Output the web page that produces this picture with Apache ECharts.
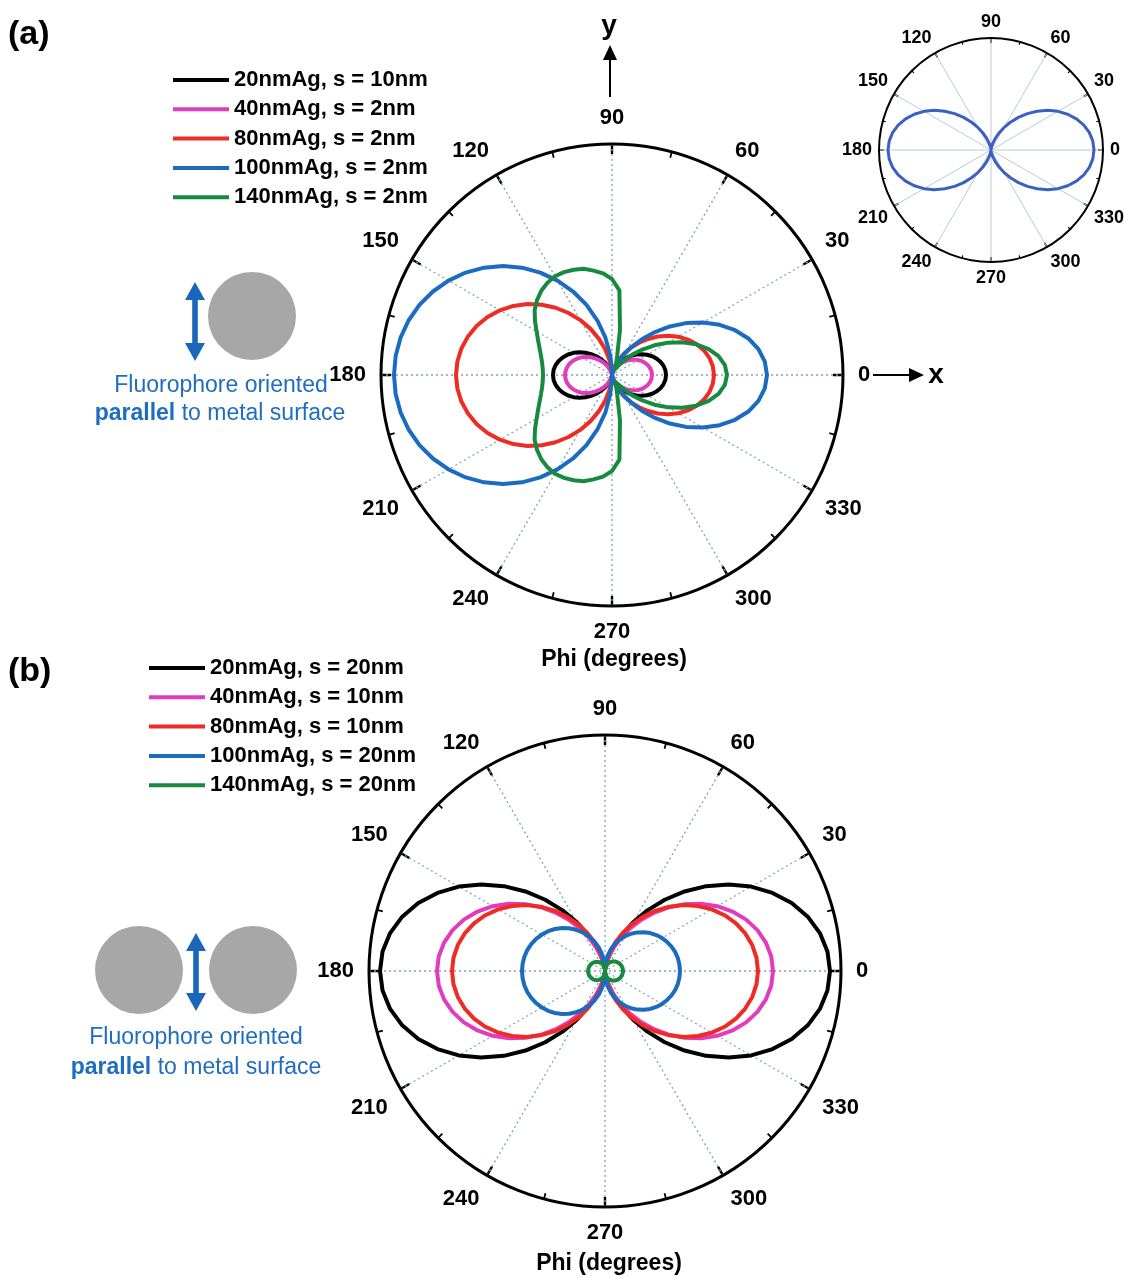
<!DOCTYPE html>
<html><head><meta charset="utf-8">
<script src="https://cdn.jsdelivr.net/npm/echarts@6/dist/echarts.min.js"></script>
<style>html,body{margin:0;padding:0;background:#fff}#c{width:1124px;height:1278px}</style>
</head><body><div id="c"></div>
<script>
// ---------- data ----------
const ANGLES = [0,5,10,15,20,25,30,35,40,45,50,55,60,65,70,75,80,85,90,95,100,105,110,115,120,125,130,135,140,145,150,155,160,165,170,175,180,
  185,190,195,200,205,210,215,220,225,230,235,240,245,250,255,260,265,270,275,280,285,290,295,300,305,310,315,320,325,330,335,340,345,350,355,360];

const NAMES_A = ['20nmAg, s = 10nm','40nmAg, s = 2nm','80nmAg, s = 2nm','100nmAg, s = 2nm','140nmAg, s = 2nm'];
const NAMES_B = ['20nmAg, s = 20nm','40nmAg, s = 10nm','80nmAg, s = 10nm','100nmAg, s = 20nm','140nmAg, s = 20nm'];
const COLORS = ['#000000','#e23cbd','#ee2b25','#1b6cc0','#178a3f'];

// panel (a) radial intensities (arbitrary units, outer circle = RMAX_A)
const RMAX_A = 231;
const BLACK_A = [54,53.6,52.4,50.4,47.7,44.4,40.5,36.2,31.7,27,22.3,17.8,13.5,9.6,6.3,3.6,1.6,0.4,0,
  0.4,1.8,4,6.9,10.5,14.8,19.4,24.4,29.5,34.6,39.6,44.3,48.5,52.1,55,57.2,58.6,59,
  58.6,57.2,55,52.1,48.5,44.3,39.6,34.6,29.5,24.4,19.4,14.8,10.5,6.9,4,1.8,0.4,0,
  0.4,1.6,3.6,6.3,9.6,13.5,17.8,22.3,27,31.7,36.2,40.5,44.4,47.7,50.4,52.4,53.6,54];
const MAGENTA_A = [40,39.7,38.8,37.3,35.3,32.9,30,26.8,23.5,20,16.5,13.2,10,7.1,4.7,2.7,1.2,0.3,0,
  0.4,1.4,3.1,5.5,8.4,11.8,15.5,19.4,23.5,27.6,31.5,35.3,38.6,41.5,43.9,45.6,46.6,47,
  46.6,45.6,43.9,41.5,38.6,35.3,31.5,27.6,23.5,19.4,15.5,11.8,8.4,5.5,3.1,1.4,0.4,0,
  0.3,1.2,2.7,4.7,7.1,10,13.2,16.5,20,23.5,26.8,30,32.9,35.3,37.3,38.8,39.7,40];
const RED_A = [102,101.2,98.9,95.2,90.1,83.8,76.5,68.4,59.9,51,42.1,33.6,25.5,18.2,11.9,6.8,3.1,0.8,0,
  6.5,16,26.9,38.7,50.9,63.4,75.7,87.8,99.4,110.3,120.4,129.4,137.3,143.9,149.1,152.9,155.2,156,
  155.2,152.9,149.1,143.9,137.3,129.4,120.4,110.3,99.4,87.8,75.7,63.4,50.9,38.7,26.9,16,6.5,0,
  0.8,3.1,6.8,11.9,18.2,25.5,33.6,42.1,51,59.9,68.4,76.5,83.8,90.1,95.2,98.9,101.2,102];
const BLUE_A = [155,153.4,148.7,141.2,131,118.8,105.1,90.5,75.5,60.8,47,34.5,23.9,15.1,8.6,4,1.4,0.2,0,
  19,37.9,56.4,74.6,92.1,109,125,140.1,154.1,167,178.6,188.8,197.6,204.9,210.6,214.7,217.2,218,
  217.2,214.7,210.6,204.9,197.6,188.8,178.6,167,154.1,140.1,125,109,92.1,74.6,56.4,37.9,19,0,
  0.2,1.4,4,8.6,15.1,23.9,34.5,47,60.8,75.5,90.5,105.1,118.8,131,141.2,148.7,153.4,155];
const GREEN_A = [115,113.3,108.2,100.1,89.7,77.6,64.7,51.8,39.6,28.8,19.6,12.4,7.2,8,12,20,46,85,96,
  102,106,110,112,113.5,114,112.5,110,106,101,94,87,81.5,77,73.5,71,69.5,69,
  69.5,71,73.5,77,81.5,87,94,101,106,110,112.5,114,113.5,112,110,106,102,96,
  85,46,20,12,8,7.2,12.4,19.6,28.8,39.6,51.8,64.7,77.6,89.7,100.1,108.2,113.3,115];

// inset
const RMAX_IN = 112;
const INSET = [103,102.2,99.9,96.1,90.9,84.6,77.3,69.1,60.4,51.5,42.6,33.9,25.8,18.4,12.1,6.9,3.1,0.8,0,
  0.8,3.1,6.9,12.1,18.4,25.8,33.9,42.6,51.5,60.4,69.1,77.3,84.6,90.9,96.1,99.9,102.2,103,
  102.2,99.9,96.1,90.9,84.6,77.3,69.1,60.4,51.5,42.6,33.9,25.8,18.4,12.1,6.9,3.1,0.8,0,
  0.8,3.1,6.9,12.1,18.4,25.8,33.9,42.6,51.5,60.4,69.1,77.3,84.6,90.9,96.1,99.9,102.2,103];

// panel (b)
const RMAX_B = 236;
const BLACK_B = [225,223.3,218.2,209.9,198.7,184.8,168.8,151,132,112.5,93,74,56.3,40.2,26.3,15.1,6.8,1.7,0,
  1.7,6.8,15.1,26.3,40.2,56.3,74,93,112.5,132,151,168.8,184.8,198.7,209.9,218.2,223.3,225,
  223.3,218.2,209.9,198.7,184.8,168.8,151,132,112.5,93,74,56.3,40.2,26.3,15.1,6.8,1.7,0,
  1.7,6.8,15.1,26.3,40.2,56.3,74,93,112.5,132,151,168.8,184.8,198.7,209.9,218.2,223.3,225];
const MAGENTA_B = [168,166.9,163.4,157.8,150.2,140.7,129.7,117.3,104,90,75.8,61.8,48.2,35.6,24.4,14.8,7.2,2.1,0,
  2.1,7.2,14.8,24.4,35.6,48.2,61.8,75.8,90,104,117.3,129.7,140.7,150.2,157.8,163.4,166.9,168,
  166.9,163.4,157.8,150.2,140.7,129.7,117.3,104,90,75.8,61.8,48.2,35.6,24.4,14.8,7.2,2.1,0,
  2.1,7.2,14.8,24.4,35.6,48.2,61.8,75.8,90,104,117.3,129.7,140.7,150.2,157.8,163.4,166.9,168];
const RED_B = [153,152.1,149.5,145.2,139.4,132,123.3,113.4,102.6,91,78.9,66.5,54.1,42,30.6,20.2,11.1,3.9,0,
  3.9,11.1,20.2,30.6,42,54.1,66.5,78.9,91,102.6,113.4,123.3,132,139.4,145.2,149.5,152.1,153,
  152.1,149.5,145.2,139.4,132,123.3,113.4,102.6,91,78.9,66.5,54.1,42,30.6,20.2,11.1,3.9,0,
  3.9,11.1,20.2,30.6,42,54.1,66.5,78.9,91,102.6,113.4,123.3,132,139.4,145.2,149.5,152.1,153];
const BLUE_B = [75,74.7,74,72.7,70.9,68.6,65.9,62.7,59,54.9,50.4,45.5,40.2,34.6,28.6,22.2,15.5,8.3,0,
  9.2,17.2,24.6,31.6,38.2,44.5,50.3,55.8,60.8,65.3,69.4,72.9,76,78.5,80.5,81.9,82.7,83,
  82.7,81.9,80.5,78.5,76,72.9,69.4,65.3,60.8,55.8,50.3,44.5,38.2,31.6,24.6,17.2,9.2,0,
  8.3,15.5,22.2,28.6,34.6,40.2,45.5,50.4,54.9,59,62.7,65.9,68.6,70.9,72.7,74,74.7,75];
const GREEN_B = [18,17.9,17.8,17.5,17.1,16.6,16,15.3,14.5,13.6,12.6,11.5,10.3,9,7.6,6.1,4.4,2.6,0,
  2.4,4.2,5.8,7.2,8.5,9.8,10.9,11.9,12.9,13.7,14.5,15.2,15.7,16.2,16.5,16.8,16.9,17,
  16.9,16.8,16.5,16.2,15.7,15.2,14.5,13.7,12.9,11.9,10.9,9.8,8.5,7.2,5.8,4.2,2.4,0,
  2.6,4.4,6.1,7.6,9,10.3,11.5,12.6,13.6,14.5,15.3,16,16.6,17.1,17.5,17.8,17.9,18];

// ---------- chart ----------
const FONT = 'Liberation Sans, Arial, Helvetica, sans-serif';
const pairs = (rs, angs) => rs.map((r, i) => [r, angs[i]]);

function angAxis(idx, fontSize, margin, split, tickLen, minorLen, w) {
  return {
    polarIndex: idx, type: 'value', min: 0, max: 360, interval: 30,
    startAngle: 0, clockwise: false,
    axisLine: {show: true, lineStyle: {color: '#000', width: w}},
    axisTick: {show: true, inside: true, length: tickLen, lineStyle: {color: '#000', width: w * 0.8}},
    minorTick: {show: true, splitNumber: 2, length: minorLen, lineStyle: {color: '#000', width: w * 0.6}},
    axisLabel: {show: true, margin: margin, fontSize: fontSize, fontWeight: 'bold', color: '#000', fontFamily: FONT,
      formatter: v => (v === 360 ? '' : String(v))},
    splitLine: {show: true, lineStyle: split}
  };
}
function radAxis(idx, max) {
  return {polarIndex: idx, type: 'value', min: 0, max: max, show: false,
    axisLine: {show: false}, axisLabel: {show: false}, axisTick: {show: false}, splitLine: {show: false}};
}
function lineSeries(name, idx, data, color, width) {
  return {type: 'line', name: name, coordinateSystem: 'polar', polarIndex: idx, data: data,
    showSymbol: false, symbol: 'none', smooth: false, color: color,
    lineStyle: {color: color, width: width, join: 'round', cap: 'round'}, silent: true};
}

const dotted = {color: '#7ea3b4', type: [2, 3], width: 1.3};
const seriesA = [BLACK_A, MAGENTA_A, RED_A, BLUE_A, GREEN_A].map((d, i) => lineSeries(NAMES_A[i], 0, pairs(d, ANGLES), COLORS[i], 4));
const seriesB = [BLACK_B, MAGENTA_B, RED_B, BLUE_B, GREEN_B].map((d, i) => lineSeries(NAMES_B[i], 2, pairs(d, ANGLES), COLORS[i], 4));
const seriesIn = [lineSeries('inset', 1, pairs(INSET, ANGLES), '#3b5fc2', 3)];

const legendBase = {orient: 'vertical', icon: 'rect', itemWidth: 56, itemHeight: 4, itemGap: 7.3, padding: 0,
  selectedMode: false, textStyle: {fontSize: 22, fontWeight: 'bold', color: '#000', lineHeight: 22, fontFamily: FONT}};

function txt(text, x, y, size, weight, color, align) {
  return {type: 'text', silent: true, style: {text: text, x: x, y: y, fill: color || '#000',
    font: (weight || 'bold') + ' ' + size + 'px ' + FONT,
    align: align || 'center', textAlign: align || 'center', verticalAlign: 'middle', textVerticalAlign: 'middle'}};
}
function richTxt(x, y) {
  return {type: 'text', silent: true, style: {text: '{b|parallel} to metal surface', x: x, y: y, fill: BLUE_TXT,
    font: 'normal 23px ' + FONT, align: 'center', textAlign: 'center', verticalAlign: 'middle', textVerticalAlign: 'middle',
    rich: {b: {fontWeight: 'bold', fontSize: 23, fontFamily: FONT, fill: BLUE_TXT}}}};
}
function dblArrow(x, y1, y2, color) {
  return [
    {type: 'rect', silent: true, shape: {x: x - 2.8, y: y1 + 14, width: 5.6, height: y2 - y1 - 28}, style: {fill: color}},
    {type: 'polygon', silent: true, shape: {points: [[x - 10, y1 + 18], [x + 10, y1 + 18], [x, y1]]}, style: {fill: color}},
    {type: 'polygon', silent: true, shape: {points: [[x - 10, y2 - 18], [x + 10, y2 - 18], [x, y2]]}, style: {fill: color}}
  ];
}
const BLUE_TXT = '#1f6dc0';
const graphics = [
  txt('(a)', 8, 35, 34, 'bold', '#000', 'left'),
  txt('(b)', 8, 672, 34, 'bold', '#000', 'left'),
  // y arrow
  {type: 'line', silent: true, shape: {x1: 610, y1: 97, x2: 610, y2: 56}, style: {stroke: '#000', lineWidth: 2}},
  {type: 'polygon', silent: true, shape: {points: [[603, 60], [617, 60], [610, 45]]}, style: {fill: '#000'}},
  txt('y', 609, 26, 28, 'bold', '#000'),
  // x arrow
  {type: 'line', silent: true, shape: {x1: 873, y1: 375, x2: 913, y2: 375}, style: {stroke: '#000', lineWidth: 2}},
  {type: 'polygon', silent: true, shape: {points: [[909, 368], [909, 382], [924, 375]]}, style: {fill: '#000'}},
  txt('x', 936, 375, 28, 'bold', '#000'),
  txt('Phi (degrees)', 614, 660, 23, 'bold'),
  txt('Phi (degrees)', 609, 1264, 23, 'bold'),
  // illustration (a)
  {type: 'circle', silent: true, shape: {cx: 252, cy: 316, r: 44}, style: {fill: '#a7a7a7'}},
  ...dblArrow(195, 282, 361, '#1a66bb'),
  txt('Fluorophore oriented', 221, 386, 23, 'normal', BLUE_TXT),
  richTxt(220, 414),
  // illustration (b)
  {type: 'circle', silent: true, shape: {cx: 139, cy: 970, r: 44}, style: {fill: '#a7a7a7'}},
  {type: 'circle', silent: true, shape: {cx: 253, cy: 970, r: 44}, style: {fill: '#a7a7a7'}},
  ...dblArrow(196, 933, 1011, '#1a66bb'),
  txt('Fluorophore oriented', 196, 1038, 23, 'normal', BLUE_TXT),
  richTxt(196, 1068)
];

const chart = echarts.init(document.getElementById('c'), null, {renderer: 'canvas'});
chart.setOption({
  animation: false,
  backgroundColor: '#fff',
  polar: [
    {center: [612, 375], radius: RMAX_A},
    {center: [991, 150], radius: RMAX_IN},
    {center: [605, 971], radius: RMAX_B}
  ],
  angleAxis: [
    angAxis(0, 22, 15, dotted, 10, 6, 3),
    angAxis(1, 18, 7, {color: '#bccbd6', type: 'solid', width: 1}, 5, 3, 2),
    angAxis(2, 22, 15, dotted, 10, 6, 3)
  ],
  radiusAxis: [radAxis(0, RMAX_A), radAxis(1, RMAX_IN), radAxis(2, RMAX_B)],
  legend: [
    Object.assign({}, legendBase, {data: NAMES_A, left: 173, top: 69}),
    Object.assign({}, legendBase, {data: NAMES_B, left: 149, top: 657})
  ],
  graphic: {elements: graphics},
  series: [...seriesA, ...seriesIn, ...seriesB]
});
</script>
</body></html>
